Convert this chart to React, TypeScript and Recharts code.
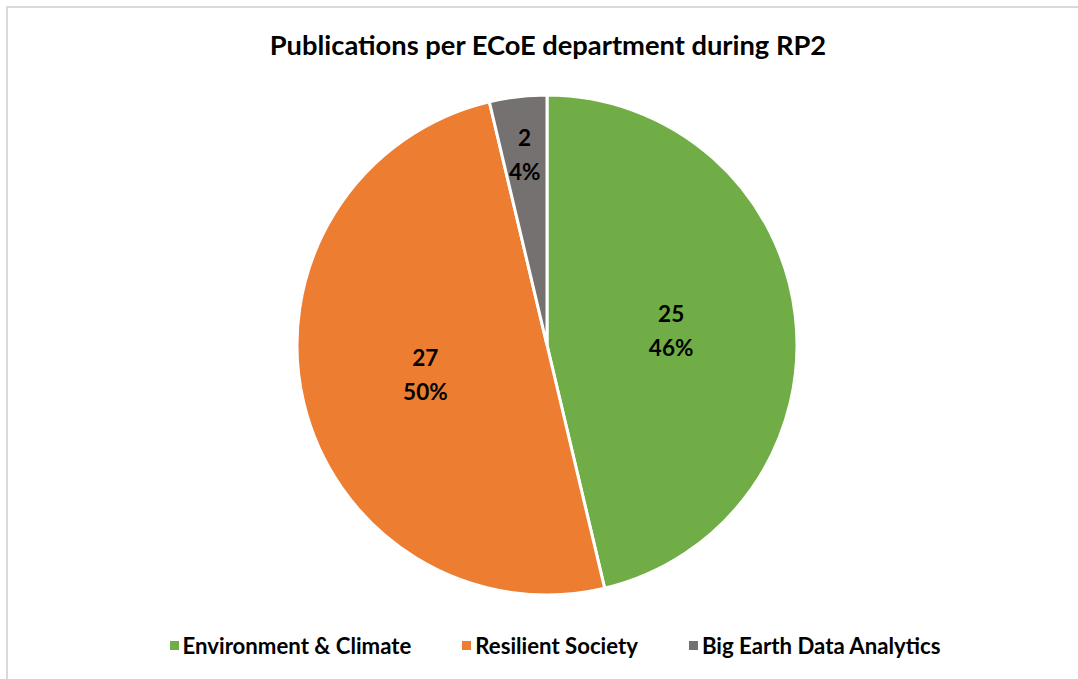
import React from "react";
import { PieChart, Pie, Cell, Legend } from "recharts";

const departments = ["Environment & Climate", "Resilient Society", "Big Earth Data Analytics"];
const publications = [25, 27, 2];
const colors = ["#70AD47", "#ED7D31", "#767171"];
const labelRadiusFactor = [0.5, 0.5, 0.77];

const data = departments.map((name, i) => ({ name, value: publications[i] }));
const total = publications.reduce((a, b) => a + b, 0);

const FONT = "Lato, 'Open Sans', sans-serif";
const RAD = Math.PI / 180;

const renderLabel = (props: any) => {
  const { cx, cy, midAngle, outerRadius, index, value } = props;
  const r = outerRadius * labelRadiusFactor[index];
  const x = cx + r * Math.cos(-midAngle * RAD);
  const y = cy + r * Math.sin(-midAngle * RAD);
  const pct = Math.round((value / total) * 100);
  return (
    <text x={x} y={y} textAnchor="middle" fill="#000" fontFamily={FONT} fontWeight={700} fontSize={22.5}>
      <tspan x={x} dy={-8}>{value}</tspan>
      <tspan x={x} dy={34}>{pct}%</tspan>
    </text>
  );
};

const renderLegend = () => (
  <div style={{ display: "flex", justifyContent: "center", fontFamily: FONT, fontWeight: 700, fontSize: 22.2, color: "#000" }}>
    {departments.map((d, i) => (
      <div key={d} style={{ display: "flex", alignItems: "center", marginRight: i < departments.length - 1 ? 51 : 0 }}>
        <span style={{ display: "inline-block", width: 9, height: 9, background: colors[i], marginRight: 4 }} />
        <span>{d}</span>
      </div>
    ))}
  </div>
);

export default function App() {
  return (
    <div style={{ position: "absolute", left: 0, top: 0, width: 1078, height: 679, background: "#fff" }}>
      <div
        style={{
          position: "absolute",
          left: 6,
          top: 6,
          width: 1090,
          height: 690,
          border: "2px solid #d9d9d9",
          boxSizing: "border-box",
        }}
      />
      <div
        style={{
          position: "absolute",
          left: 0,
          top: 28,
          width: 1096,
          textAlign: "center",
          fontFamily: FONT,
          fontWeight: 700,
          fontSize: 27.3,
          color: "#000",
        }}
      >
        Publications per ECoE department during RP2
      </div>
      <div style={{ position: "absolute", left: 0, top: 0 }}>
        <PieChart width={1078} height={679} margin={{ top: 0, right: 0, bottom: 0, left: 0 }}>
          <Pie
            data={data}
            dataKey="value"
            nameKey="name"
            cx={547}
            cy={345}
            outerRadius={250}
            startAngle={90}
            endAngle={-270}
            stroke="#fff"
            strokeWidth={3}
            label={renderLabel}
            labelLine={false}
            isAnimationActive={false}
          >
            {data.map((d, i) => (
              <Cell key={d.name} fill={colors[i]} />
            ))}
          </Pie>
          <Legend
            content={renderLegend}
            wrapperStyle={{ position: "absolute", left: 16, top: 632, width: 1078 }}
          />
        </PieChart>
      </div>
    </div>
  );
}
